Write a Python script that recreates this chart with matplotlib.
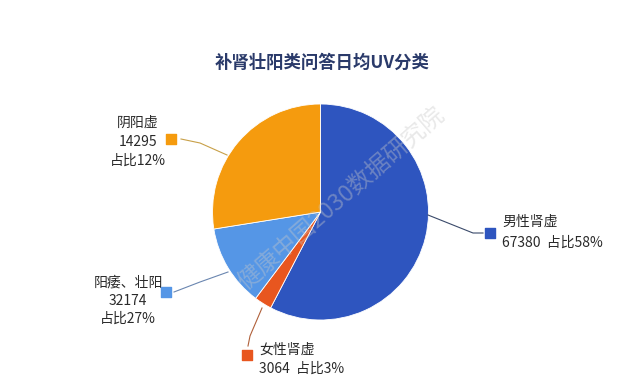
import matplotlib
matplotlib.use("Agg")
import matplotlib.pyplot as plt
import numpy as np

plt.rcParams['font.family'] = ['Noto Sans CJK SC', 'DejaVu Sans']

title = "补肾壮阳类问答日均UV分类"
# slices in drawing order (clockwise from 12 o'clock)
slice_values = [67380, 3064, 14295, 32174]
slice_colors = ['#2e55bf', '#e8561f', '#5596e6', '#f59b0e']

# label texts as printed in the chart
label_names = ['男性肾虚', '女性肾虚', '阳痿、壮阳', '阴阳虚']
label_values = [67380, 3064, 32174, 14295]
label_pcts = [58, 3, 27, 12]
label_colors = ['#2e55bf', '#e8561f', '#5596e6', '#f59b0e']

W, H = 640, 385
fig = plt.figure(figsize=(6.4, 3.85), dpi=100)
ax = fig.add_axes([0, 0, 1, 1])
ax.set_xlim(0, W)
ax.set_ylim(0, H)
ax.set_aspect('equal')
ax.axis('off')

def Y(y):
    return H - y

cx, cy, r = 320.5, 212, 108
ax.pie(slice_values, colors=slice_colors, startangle=90, counterclock=False,
       center=(cx, Y(cy)), radius=r, frame=True,
       wedgeprops=dict(linewidth=0.6, edgecolor='white'))
ax.set_xlim(0, W)
ax.set_ylim(0, H)
ax.axis('off')

ax.text(322, Y(63), title, ha='center', va='center', fontsize=12.5,
        color='#2a3a6a', fontweight='bold')

tc = '#2a2a2a'
fs = 10
# 男性肾虚
ax.plot([428, 473, 483], [Y(215), Y(233), Y(233)], color='#3a4a6a', lw=0.8)
ax.scatter([490], [Y(233)], marker='s', s=55, color=label_colors[0], zorder=5)
ax.text(502, Y(222), label_names[0], ha='left', va='center', fontsize=fs, color=tc)
ax.text(502, Y(243), f"{label_values[0]}  占比{label_pcts[0]}%", ha='left', va='center', fontsize=fs, color=tc)

# 女性肾虚
ax.plot([262, 256, 250, 248], [Y(308), Y(322), Y(336), Y(346)], color='#b0603a', lw=0.8)
ax.scatter([247], [Y(355)], marker='s', s=55, color=label_colors[1], zorder=5)
ax.text(259, Y(350), label_names[1], ha='left', va='center', fontsize=fs, color=tc)
ax.text(259, Y(369), f"{label_values[1]}  占比{label_pcts[1]}%", ha='left', va='center', fontsize=fs, color=tc)

# 阳痿、壮阳
ax.plot([228, 200, 174], [Y(272), Y(282), Y(292)], color='#6a86b0', lw=0.8)
ax.scatter([166], [Y(292)], marker='s', s=55, color=label_colors[2], zorder=5)
for i, t in enumerate([label_names[2], str(label_values[2]), f"占比{label_pcts[2]}%"]):
    ax.text(128, Y(283 + 18 * i), t, ha='center', va='center', fontsize=fs, color=tc)

# 阴阳虚
ax.plot([227, 200, 181], [Y(155), Y(143), Y(139)], color='#c8a048', lw=0.8)
ax.scatter([171], [Y(139)], marker='s', s=55, color=label_colors[3], zorder=5)
for i, t in enumerate([label_names[3], str(label_values[3]), f"占比{label_pcts[3]}%"]):
    ax.text(138, Y(123 + 19 * i), t, ha='center', va='center', fontsize=fs, color=tc)

# watermark
ax.text(341, Y(198), "健康中国2030数据研究院", ha='center', va='center', fontsize=17,
        rotation=41, color='#c8c8c8', alpha=0.4, zorder=10)

fig.savefig('out.png', dpi=100)
